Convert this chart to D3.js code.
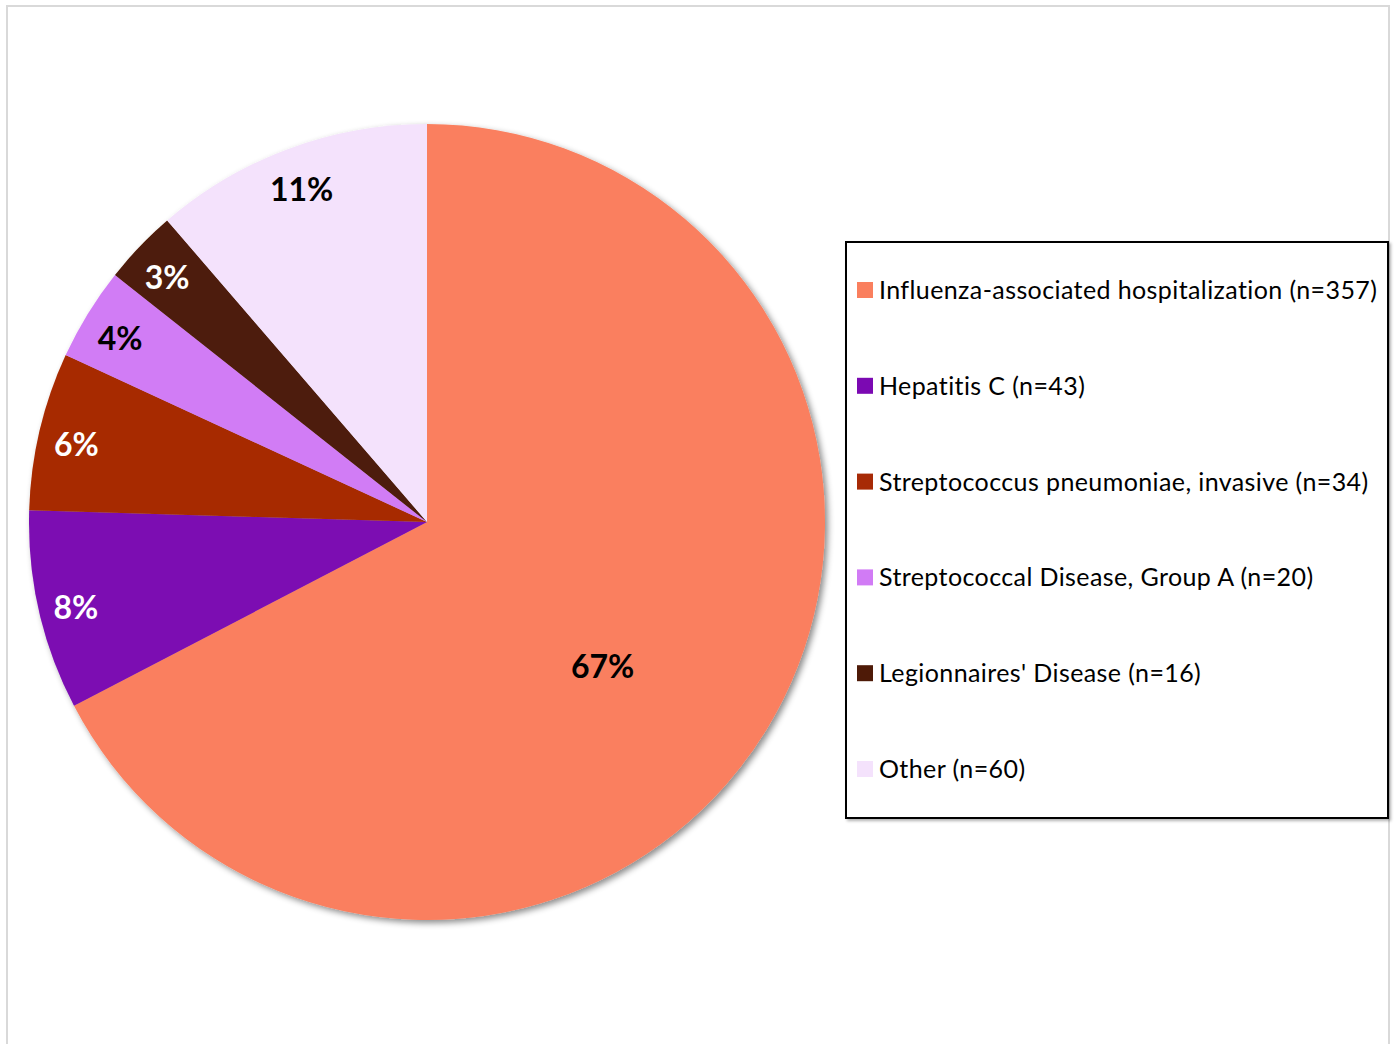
<!DOCTYPE html>
<html><head><meta charset="utf-8">
<script src="https://cdn.jsdelivr.net/npm/d3@7"></script>
<style>html,body{margin:0;padding:0;background:#fff;overflow:hidden}</style>
</head><body>
<svg id="chart" width="1394" height="1044"></svg>
<script>
const categories = ["Influenza-associated hospitalization","Hepatitis C","Streptococcus pneumoniae, invasive","Streptococcal Disease, Group A","Legionnaires' Disease","Other"];
const counts = [357, 43, 34, 20, 16, 60];
const colors = ["#FA7F5E","#7B09B2","#A72A06","#D17BF5","#4E1A07","#F4E2FC"];
const labelColors = ["#000","#fff","#fff","#000","#fff","#000"];

const svg = d3.select("#chart");
const defs = svg.append("defs");
const f = defs.append("filter").attr("id","shadow").attr("x","-10%").attr("y","-10%").attr("width","130%").attr("height","130%");
f.append("feDropShadow").attr("dx",3).attr("dy",3).attr("stdDeviation",3).attr("flood-color","#000").attr("flood-opacity",0.45);
const f2 = defs.append("filter").attr("id","shadow2").attr("x","-10%").attr("y","-10%").attr("width","130%").attr("height","130%");
f2.append("feDropShadow").attr("dx",2).attr("dy",2).attr("stdDeviation",1.5).attr("flood-color","#000").attr("flood-opacity",0.3);

// outer frame
svg.append("rect").attr("x",7).attr("y",6).attr("width",1382).attr("height",1100)
  .attr("fill","#fff").attr("stroke","#d9d9d9").attr("stroke-width",2);

const cx = 427, cy = 522, r = 398;
const total = d3.sum(counts);
const data = categories.map((c,i)=>({cat:c, n:counts[i], color:colors[i], lc:labelColors[i]}));
const pie = d3.pie().value(d=>d.n).sort(null).startAngle(0).endAngle(2*Math.PI);
const arcs = pie(data);
const arc = d3.arc().innerRadius(0).outerRadius(r);

const g = svg.append("g").attr("transform",`translate(${cx},${cy})`);
g.append("g").attr("filter","url(#shadow)").selectAll("path").data(arcs).join("path")
  .attr("d",arc).attr("fill",d=>d.data.color);

function lpos(d){
  const big = d.index===0;
  const a = (d.startAngle+d.endAngle)/2 + (big?0.14:0);
  const rr = big ? 0.57*r : 0.905*r;
  return [Math.sin(a)*rr, -Math.cos(a)*rr + (big?0:4)];
}
g.selectAll("text.lbl").data(arcs).join("text").attr("class","lbl")
  .attr("x",d=>lpos(d)[0]).attr("y",d=>lpos(d)[1])
  .attr("text-anchor","middle").attr("dominant-baseline","central")
  .attr("font-family","Lato, 'Open Sans', sans-serif").attr("font-weight","bold").attr("font-size",32)
  .attr("fill",d=>d.data.lc)
  .text(d=>Math.round(d.data.n/total*100)+"%");

// legend
const lg = svg.append("g");
lg.append("rect").attr("x",846).attr("y",242).attr("width",542).attr("height",576)
  .attr("fill","#fff").attr("stroke","#000").attr("stroke-width",2).attr("filter","url(#shadow2)");
const ly = d3.scalePoint().domain(categories).range([290,769]);
const items = lg.selectAll("g.item").data(data).join("g").attr("class","item")
  .attr("transform",d=>`translate(857,${ly(d.cat)})`);
items.append("rect").attr("x",0).attr("y",-8).attr("width",16).attr("height",16).attr("fill",d=>d.color);
items.append("text").attr("x",22).attr("y",-1).attr("dominant-baseline","central")
  .attr("font-family","Lato, 'Open Sans', sans-serif").attr("font-size",25).attr("letter-spacing",0.4).attr("fill","#000")
  .text(d=>`${d.cat} (n=${d.n})`);
</script>
</body></html>
